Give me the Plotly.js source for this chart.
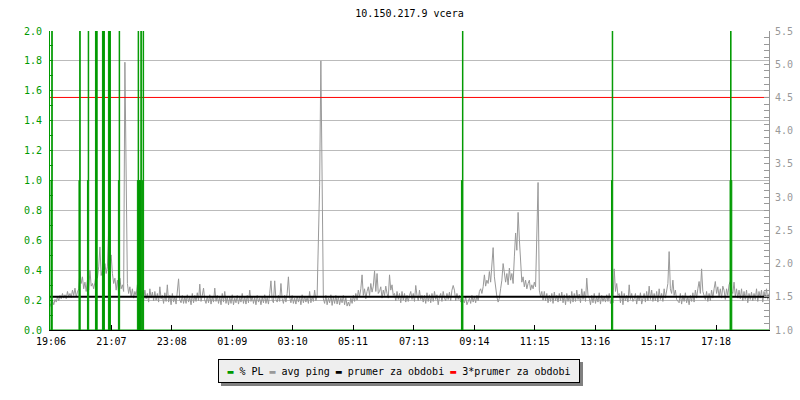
<!DOCTYPE html>
<html>
<head>
<meta charset="utf-8">
<script src="https://cdn.plot.ly/plotly-3.0.1.min.js"></script>
<style>html,body{margin:0;padding:0;background:#fff;}#chart{width:800px;height:400px;}</style>
</head>
<body>
<div id="chart"></div>
<script>
// ---- data ----
const chartTitle = '10.150.217.9 vcera';
const tickLabels = ['19:06','21:07','23:08','01:09','03:10','05:11','07:13','09:14','11:15','13:16','15:17','17:18'];
const seriesNames = ['% PL', 'avg ping', 'prumer za obdobi', '3*prumer za obdobi'];

// avg ping (right axis), 2.5-minute samples starting 2 min before 19:06 (one row = 30 min)
const pingStartMin = -2;
const pingStepMin = 2.5;
const pingValues = [
  1.40,1.35,1.44,1.38,1.46,1.42,1.50,1.44,1.52,1.47,1.55,1.48,
  1.53,1.47,1.58,1.50,1.55,1.49,1.60,1.52,1.63,1.50,1.57,1.62,
  1.88,1.70,1.80,1.62,1.72,1.58,1.75,1.60,1.90,1.66,1.70,1.62,
  1.72,1.85,1.78,1.95,2.25,1.82,1.90,1.80,2.00,1.85,1.95,2.49,
  2.00,2.13,1.85,1.70,1.78,1.60,1.75,1.55,1.78,1.62,1.68,1.58,
  5.03,3.38,1.70,1.55,1.65,1.50,1.62,1.48,1.58,1.52,1.68,1.55,
  1.62,1.48,1.58,1.45,1.60,1.47,1.55,1.42,1.62,1.48,1.57,1.44,
  1.58,1.45,1.55,1.42,1.65,1.47,1.52,1.40,1.56,1.43,1.68,1.42,
  1.52,1.38,1.55,1.42,1.50,1.39,1.60,1.77,1.45,1.41,1.52,1.40,
  1.50,1.40,1.53,1.42,1.49,1.38,1.55,1.41,1.52,1.43,1.56,1.44,
  1.69,1.43,1.52,1.63,1.45,1.40,1.51,1.41,1.53,1.39,1.50,1.42,
  1.63,1.43,1.52,1.40,1.50,1.38,1.55,1.42,1.58,1.40,1.50,1.38,
  1.50,1.40,1.53,1.38,1.48,1.41,1.52,1.39,1.49,1.42,1.55,1.40,
  1.50,1.39,1.52,1.41,1.60,1.43,1.51,1.40,1.49,1.38,1.52,1.42,
  1.48,1.38,1.50,1.41,1.53,1.40,1.49,1.39,1.55,1.74,1.45,1.41,
  1.74,1.46,1.42,1.52,1.43,1.70,1.47,1.40,1.52,1.42,1.55,1.80,
  1.50,1.41,1.52,1.40,1.48,1.39,1.51,1.42,1.50,1.38,1.53,1.41,
  1.51,1.42,1.49,1.40,1.58,1.41,1.50,1.43,1.60,1.44,1.52,2.31,
  3.18,5.05,3.25,1.47,1.40,1.52,1.38,1.48,1.41,1.53,1.37,1.50,
  1.40,1.52,1.39,1.50,1.38,1.48,1.41,1.52,1.38,1.49,1.36,1.42,
  1.36,1.48,1.40,1.52,1.43,1.55,1.45,1.60,1.50,1.62,1.83,1.52,
  1.62,1.47,1.58,1.65,1.52,1.70,1.57,1.66,1.89,1.58,1.85,1.55,
  1.58,1.65,1.48,1.60,1.52,1.66,1.55,1.48,1.83,1.60,1.68,1.52,
  1.55,1.44,1.58,1.46,1.55,1.41,1.58,1.45,1.55,1.42,1.52,1.43,
  1.52,1.58,1.46,1.55,1.43,1.67,1.52,1.44,1.60,1.46,1.52,1.42,
  1.52,1.40,1.56,1.43,1.53,1.41,1.55,1.43,1.58,1.46,1.53,1.38,
  1.50,1.55,1.43,1.58,1.48,1.44,1.55,1.46,1.57,1.44,1.60,1.67,
  1.60,1.44,1.55,1.46,1.52,1.42,1.55,1.43,1.41,1.50,1.38,1.44,
  1.48,1.40,1.52,1.42,1.50,1.41,1.52,1.44,1.58,1.62,1.55,1.65,
  1.83,1.66,1.75,1.70,1.88,1.72,1.95,2.24,1.80,1.62,1.50,1.42,
  1.48,1.62,1.75,2.00,1.80,1.72,1.85,1.68,1.93,1.75,1.85,1.70,
  2.10,2.46,2.20,2.77,2.37,1.95,1.72,1.80,1.65,1.75,1.62,1.70,
  1.75,1.60,1.68,1.62,1.72,1.65,2.50,3.22,1.60,1.50,1.58,1.45,
  1.58,1.44,1.55,1.41,1.52,1.43,1.55,1.40,1.57,1.44,1.52,1.42,
  1.55,1.44,1.57,1.41,1.53,1.38,1.55,1.43,1.52,1.40,1.58,1.42,
  1.55,1.43,1.60,1.46,1.54,1.41,1.62,1.46,1.58,1.43,1.78,1.52,
  1.48,1.38,1.52,1.41,1.55,1.40,1.50,1.42,1.56,1.39,1.52,1.43,
  1.50,1.42,1.53,1.43,1.55,1.40,1.50,1.41,1.92,1.58,1.70,1.52,
  1.55,1.41,1.58,1.38,1.55,1.44,1.52,1.42,1.68,1.46,1.55,1.43,
  1.47,1.55,1.39,1.52,1.44,1.56,1.39,1.50,1.55,1.42,1.58,1.44,
  1.66,1.46,1.60,1.43,1.55,1.44,1.58,1.42,1.62,1.46,1.55,1.43,
  1.62,1.48,1.58,1.70,2.18,1.62,1.55,1.75,1.52,1.60,1.46,1.43,
  1.41,1.55,1.39,1.52,1.43,1.56,1.41,1.50,1.38,1.52,1.43,1.56,
  1.42,1.60,1.48,1.62,1.73,1.55,1.92,1.58,1.52,1.46,1.58,1.43,
  1.55,1.44,1.60,1.48,1.62,1.73,1.55,1.65,1.50,1.62,1.48,1.66,
  1.60,1.46,1.62,1.52,1.68,1.73,1.58,1.55,1.72,1.50,1.62,1.48,
  1.60,1.47,1.62,1.44,1.58,1.46,1.60,1.41,1.55,1.46,1.57,1.44,
  1.55,1.46,1.62,1.43,1.58,1.48,1.60,1.42,1.58,1.48,1.62,1.46,
  1.55
];

// packet loss (left axis), step samples: minutes after 19:06 and value
const plTime  = [-2, 0, 1.5, 2.5, 56, 57.5, 58.5, 73, 74.5, 75.5, 89, 92.5, 103, 107, 115, 119,
                 135, 136.5, 137.5, 173, 174.5, 175.5, 180, 181, 182, 183.5, 184.5, 185.5,
                 822, 824, 825, 1122.5, 1124, 1125, 1360, 1361, 1362, 1363.5, 1438];
const plValue = [0, 1, 10, 0, 1, 10, 0, 1, 10, 0, 10, 0, 10, 0, 10, 0,
                 1, 10, 0, 1, 10, 1, 10, 1, 0, 1, 10, 0,
                 1, 10, 0, 1, 10, 0, 1, 10, 1, 0, 0];

const avgPing = 1.5;             // prumer za obdobi
const avgMultiplier = 3;         // 3*prumer za obdobi

// ---- build ----
const pingTime = pingValues.map((_, i) => pingStartMin + i * pingStepMin);
const tStart = pingTime[0], tEnd = pingTime[pingTime.length - 1];
function toMin(s){ const p = s.split(':').map(Number); return ((p[0]*60 + p[1]) - (19*60 + 6) + 1440) % 1440; }
const tickVals = tickLabels.map(toMin);

const FONT = '"DejaVu Sans Mono", "Liberation Mono", monospace';
const GREEN = '#009900', GRAY = '#999999', BLACK = '#000000', RED = '#ff0000';
const colors = [GREEN, GRAY, BLACK, RED];

const traces = [
  { x: pingTime, y: pingValues, type: 'scatter', mode: 'lines', name: seriesNames[1],
    line: { color: GRAY, width: 1 }, yaxis: 'y', hoverinfo: 'skip' },
  { x: [tStart, tEnd], y: [avgPing, avgPing], type: 'scatter', mode: 'lines', name: seriesNames[2],
    line: { color: BLACK, width: 2 }, yaxis: 'y', hoverinfo: 'skip' },
  { x: [tStart, tEnd], y: [avgPing*avgMultiplier, avgPing*avgMultiplier], type: 'scatter', mode: 'lines',
    name: seriesNames[3], line: { color: RED, width: 1 }, yaxis: 'y', hoverinfo: 'skip' },
  { x: plTime, y: plValue, type: 'scatter', mode: 'lines', name: seriesNames[0],
    line: { color: GREEN, width: 1, shape: 'hv' }, fill: 'tozeroy', fillcolor: GREEN,
    yaxis: 'y2', hoverinfo: 'skip' }
];

// legend drawn as an rrdtool-style text box with a drop shadow
const legendText = seriesNames.map((n, i) => '<span style="color:' + colors[i] + '">▬</span> ' + n).join(' ');
const legendX = 0.4854, legendY = -0.137;

const layout = {
  width: 800, height: 400,
  paper_bgcolor: '#ffffff', plot_bgcolor: '#ffffff',
  margin: { l: 50, r: 31, t: 31, b: 70, pad: 0, autoexpand: false },
  font: { family: FONT, size: 10, color: BLACK },
  title: { text: chartTitle, x: 0.5, xref: 'paper', y: 0.9675, yref: 'container', yanchor: 'middle',
           font: { family: FONT, size: 10, color: BLACK } },
  showlegend: false,
  shapes: [
    { type: 'rect', xref: 'paper', yref: 'paper', xsizemode: 'pixel', ysizemode: 'pixel',
      xanchor: legendX, yanchor: legendY, x0: -178, x1: 184, y0: -15, y1: 9,
      fillcolor: '#808080', line: { width: 0 }, layer: 'above' }
  ],
  annotations: [
    { xref: 'paper', yref: 'paper', x: legendX, y: legendY, xanchor: 'center', yanchor: 'middle',
      showarrow: false, text: legendText, width: 352, height: 14, borderpad: 4, borderwidth: 1,
      bgcolor: '#eeeeee', bordercolor: BLACK, font: { family: FONT, size: 10, color: BLACK } }
  ],
  xaxis: { range: [tStart, tEnd], tickmode: 'array', tickvals: tickVals, ticktext: tickLabels,
           ticks: 'inside', ticklen: 5, tickcolor: BLACK, showgrid: false, zeroline: false,
           showline: true, linecolor: BLACK, linewidth: 1, ticklabelstandoff: 2,
           tickfont: { family: FONT, size: 10, color: BLACK } },
  yaxis: { side: 'right', range: [1, 5.5], dtick: 0.5, tick0: 1, tickformat: '.1f',
           ticks: 'inside', ticklen: 5, tickcolor: GRAY, showgrid: false, zeroline: false,
           showline: true, linecolor: GRAY, linewidth: 1, ticklabelstandoff: 3,
           minor: { dtick: 0.1, ticks: 'inside', ticklen: 5, tickcolor: GRAY, showgrid: false },
           tickfont: { family: FONT, size: 10, color: GRAY } },
  yaxis2: { side: 'left', overlaying: 'y', range: [0, 2], dtick: 0.2, tick0: 0, tickformat: '.1f',
            ticks: 'inside', ticklen: 3, tickcolor: GREEN, showgrid: true, gridcolor: '#bbbbbb', gridwidth: 1,
            zeroline: false, showline: true, linecolor: GREEN, linewidth: 1, ticklabelstandoff: 5,
            minor: { dtick: 0.1, ticks: 'inside', ticklen: 3, tickcolor: GREEN, showgrid: false },
            tickfont: { family: FONT, size: 10, color: GREEN } }
};

Plotly.newPlot('chart', traces, layout, { staticPlot: true, displayModeBar: false });
</script>
</body>
</html>
